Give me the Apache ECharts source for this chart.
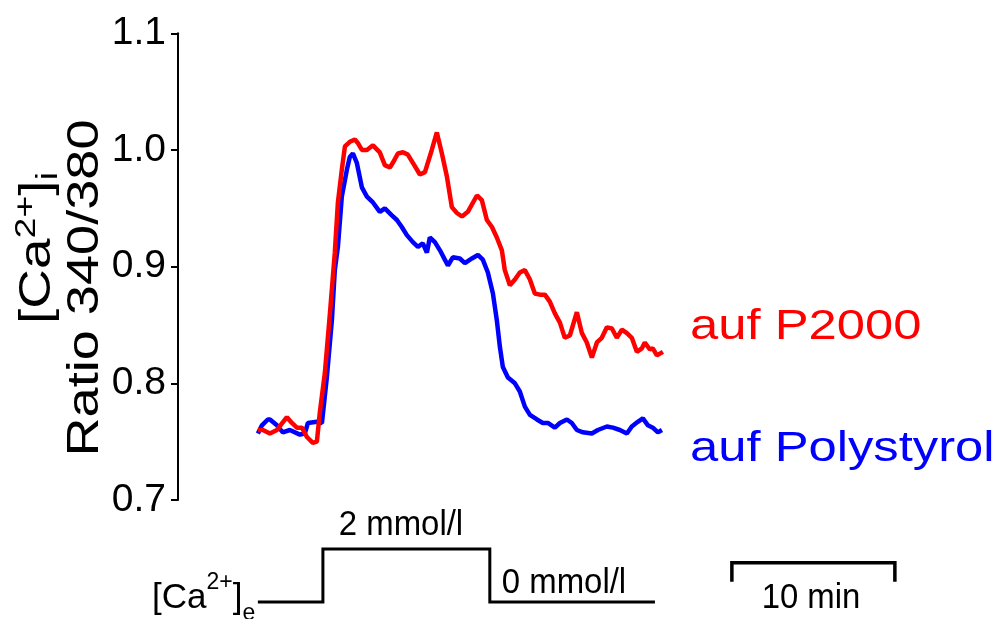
<!DOCTYPE html>
<html>
<head>
<meta charset="utf-8">
<script src="https://cdn.jsdelivr.net/npm/echarts@6/dist/echarts.min.js"></script>
<style>
html,body{margin:0;padding:0;background:#fff;}
#chart{width:998px;height:619px;}
</style>
</head>
<body>
<div id="chart"></div>
<script>
// ---- data (time in minutes, ratio 340/380) ----
const redTime = [0.0,0.31,0.74,1.17,1.78,2.09,2.39,2.70,3.01,3.37,3.62,3.80,4.11,4.42,4.72,4.91,5.15,5.34,5.64,5.95,6.13,6.38,6.69,7.06,7.48,7.79,8.10,8.28,8.59,8.90,9.20,9.51,9.94,10.25,10.67,10.98,11.29,11.60,11.90,12.21,12.52,12.88,13.44,13.74,14.05,14.36,14.66,14.97,15.15,15.46,15.77,16.07,16.38,16.69,16.99,17.30,17.61,17.91,18.22,18.53,18.83,19.14,19.57,19.88,20.18,20.49,20.80,21.10,21.41,21.72,22.02,22.33,22.64,22.94,23.25,23.56,23.74,24.05,24.23,24.48,24.85];
const redRatio = [0.760,0.760,0.757,0.760,0.771,0.766,0.762,0.762,0.754,0.749,0.750,0.775,0.809,0.860,0.912,0.955,0.983,1.003,1.007,1.009,1.006,1.000,1.000,1.004,0.998,0.987,0.985,0.989,0.997,0.998,0.996,0.989,0.979,0.981,1.000,1.015,0.997,0.977,0.951,0.946,0.943,0.947,0.961,0.957,0.940,0.934,0.925,0.914,0.897,0.884,0.889,0.895,0.897,0.889,0.877,0.876,0.876,0.870,0.860,0.852,0.839,0.841,0.861,0.843,0.835,0.822,0.835,0.839,0.848,0.847,0.839,0.846,0.843,0.839,0.827,0.830,0.835,0.829,0.830,0.824,0.827];
const blueTime = [0.0,0.25,0.61,0.74,1.17,1.53,1.96,2.58,2.88,3.07,3.62,3.93,4.23,4.54,4.72,4.91,5.15,5.46,5.64,5.83,6.07,6.38,6.69,7.06,7.48,7.79,8.22,8.53,8.83,9.14,9.51,9.82,10.12,10.37,10.55,10.86,11.17,11.47,11.66,11.96,12.39,12.70,13.13,13.50,13.80,14.11,14.42,14.66,14.85,15.03,15.34,15.77,16.07,16.38,16.69,17.12,17.48,17.79,18.22,18.53,18.96,19.26,19.57,19.94,20.49,20.86,21.41,21.78,22.21,22.64,22.94,23.31,23.62,23.93,24.23,24.54,24.79];
const blueRatio = [0.757,0.764,0.769,0.769,0.764,0.758,0.760,0.756,0.757,0.766,0.767,0.766,0.805,0.854,0.897,0.917,0.960,0.983,0.994,0.997,0.989,0.968,0.960,0.955,0.947,0.950,0.944,0.940,0.934,0.927,0.921,0.917,0.920,0.912,0.925,0.921,0.914,0.906,0.901,0.908,0.907,0.903,0.907,0.910,0.906,0.895,0.877,0.854,0.831,0.814,0.805,0.800,0.793,0.780,0.773,0.769,0.766,0.766,0.762,0.766,0.769,0.766,0.760,0.758,0.757,0.760,0.763,0.762,0.760,0.757,0.763,0.767,0.770,0.764,0.762,0.758,0.760];
// extracellular Ca2+ protocol (0 = 0 mmol/l, 1 = 2 mmol/l)
const protoTime  = [0.0, 3.99, 3.99, 14.23, 14.23, 24.36];
const protoLevel = [0, 0, 1, 1, 0, 0];
// 10 min scale bar
const scaleBarTime  = [29.08, 29.08, 39.08, 39.08];
const scaleBarLevel = [0.38, 0.74, 0.74, 0.38];
const yTicks = [0.7, 0.8, 0.9, 1.0, 1.1];
const seriesNames = ['auf P2000', 'auf Polystyrol'];

const zip = (a, b) => a.map((v, i) => [v, b[i]]);
const FONT = '"Liberation Sans", Arial, sans-serif';

const chart = echarts.init(document.getElementById('chart'), null, {renderer: 'canvas'});
chart.setOption({
  animation: false,
  backgroundColor: '#ffffff',
  grid: [
    {left: 178, right: 5, top: 33.3, bottom: 119},
    {left: 178, right: 5, top: 549, height: 53}
  ],
  xAxis: [
    {type: 'value', gridIndex: 0, min: -4.9, max: 45.1, show: false},
    {type: 'value', gridIndex: 1, min: -4.9, max: 45.1, show: false}
  ],
  yAxis: [
    {
      type: 'value', gridIndex: 0, min: yTicks[0], max: yTicks[yTicks.length - 1], interval: 0.1,
      axisLine: {show: true, onZero: false, lineStyle: {color: '#000', width: 2}},
      axisTick: {show: true, inside: false, length: 7, lineStyle: {color: '#000', width: 2}},
      splitLine: {show: false},
      axisLabel: {
        margin: 12, color: '#000', fontSize: 39, fontFamily: FONT,
        formatter: v => v.toFixed(1)
      }
    },
    {type: 'value', gridIndex: 1, min: 0, max: 1, show: false}
  ],
  series: [
    {
      name: seriesNames[1], type: 'line', xAxisIndex: 0, yAxisIndex: 0,
      data: zip(blueTime, blueRatio), showSymbol: false, symbol: 'none',
      lineStyle: {color: '#0000ff', width: 4.5}, z: 2
    },
    {
      name: seriesNames[0], type: 'line', xAxisIndex: 0, yAxisIndex: 0,
      data: zip(redTime, redRatio), showSymbol: false, symbol: 'none',
      lineStyle: {color: '#ff0000', width: 4.5}, z: 3
    },
    {
      type: 'line', xAxisIndex: 1, yAxisIndex: 1, data: zip(protoTime, protoLevel),
      showSymbol: false, symbol: 'none', clip: false,
      lineStyle: {color: '#000', width: 3, join: 'miter'}
    },
    {
      type: 'line', xAxisIndex: 1, yAxisIndex: 1, data: zip(scaleBarTime, scaleBarLevel),
      showSymbol: false, symbol: 'none', clip: false,
      lineStyle: {color: '#000', width: 3.5, join: 'miter'}
    }
  ],
  graphic: [
    {
      type: 'text', x: 690, y: 327, scaleX: 1.18,
      style: {text: seriesNames[0], fill: '#ff0000', fontSize: 43, fontFamily: FONT, textAlign: 'left', textVerticalAlign: 'middle'}
    },
    {
      type: 'text', x: 690, y: 449, scaleX: 1.18,
      style: {text: seriesNames[1], fill: '#0000ff', fontSize: 43, fontFamily: FONT, textAlign: 'left', textVerticalAlign: 'middle'}
    },
    {
      type: 'text', x: 86, y: 288, rotation: Math.PI / 2, scaleX: 1.23,
      style: {text: 'Ratio 340/380', fill: '#000', fontSize: 44, fontFamily: FONT, textAlign: 'center', textVerticalAlign: 'middle'}
    },
    {
      type: 'text', x: 38, y: 248, rotation: Math.PI / 2, scaleX: 1.25,
      style: {
        text: '{m|[Ca}{sup|2+}{m|]}{sub|i}', fill: '#000', fontFamily: FONT, textAlign: 'center', textVerticalAlign: 'middle',
        rich: {
          m: {fontSize: 44, fontFamily: FONT, fill: '#000', lineHeight: 52, verticalAlign: 'middle'},
          sup: {fontSize: 30, fontFamily: FONT, fill: '#000', lineHeight: 30, verticalAlign: 'top'},
          sub: {fontSize: 30, fontFamily: FONT, fill: '#000', lineHeight: 30, verticalAlign: 'bottom'}
        }
      }
    },
    {
      type: 'text', x: 401, y: 525, scaleX: 0.94,
      style: {text: '2 mmol/l', fill: '#000', fontSize: 35, fontFamily: FONT, textAlign: 'center', textVerticalAlign: 'middle'}
    },
    {
      type: 'text', x: 564, y: 583, scaleX: 0.94,
      style: {text: '0 mmol/l', fill: '#000', fontSize: 35, fontFamily: FONT, textAlign: 'center', textVerticalAlign: 'middle'}
    },
    {
      type: 'text', x: 811, y: 598, scaleX: 0.94,
      style: {text: '10 min', fill: '#000', fontSize: 35, fontFamily: FONT, textAlign: 'center', textVerticalAlign: 'middle'}
    },
    {
      type: 'text', x: 152, y: 598,
      style: {
        text: '{m|[Ca}{sup|2+}{m|]}{sub|e}', fill: '#000', fontFamily: FONT, textAlign: 'left', textVerticalAlign: 'middle',
        rich: {
          m: {fontSize: 35, fontFamily: FONT, fill: '#000', lineHeight: 54, verticalAlign: 'middle'},
          sup: {fontSize: 23, fontFamily: FONT, fill: '#000', lineHeight: 23, verticalAlign: 'top'},
          sub: {fontSize: 23, fontFamily: FONT, fill: '#000', lineHeight: 23, verticalAlign: 'bottom'}
        }
      }
    }
  ]
});
</script>
</body>
</html>
